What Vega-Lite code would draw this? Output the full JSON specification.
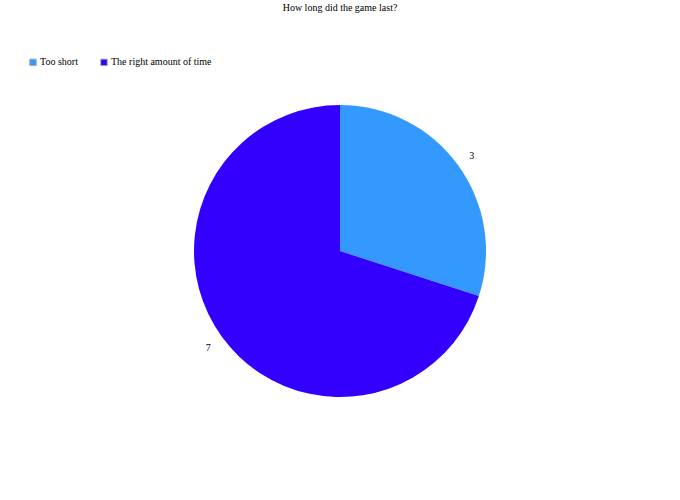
{
  "$schema": "https://vega.github.io/schema/vega-lite/v6.json",
  "width": 680,
  "height": 500,
  "autosize": {"type": "fit", "contains": "padding"},
  "padding": {"left": 0, "right": 0, "top": 3, "bottom": 15},
  "background": "white",
  "title": {
    "text": "How long did the game last?",
    "font": "Liberation Serif",
    "fontSize": 10,
    "fontWeight": "normal",
    "color": "black",
    "anchor": "middle",
    "offset": 4
  },
  "data": {
    "values": [
      {"answer": "Too short", "count": 3, "order": 1},
      {"answer": "The right amount of time", "count": 7, "order": 2}
    ]
  },
  "encoding": {
    "theta": {"field": "count", "type": "quantitative", "stack": true},
    "order": {"field": "order", "type": "quantitative"},
    "color": {
      "field": "answer",
      "type": "nominal",
      "sort": ["Too short", "The right amount of time"],
      "scale": {"domain": ["Too short", "The right amount of time"], "range": ["#3399ff", "#3300ff"]},
      "legend": {
        "orient": "none",
        "legendX": 28,
        "legendY": 40,
        "direction": "horizontal",
        "title": null,
        "symbolType": "square",
        "symbolSize": 42,
        "symbolStrokeColor": "#aaaaaa",
        "symbolStrokeWidth": 1,
        "labelFont": "Liberation Serif",
        "labelFontSize": 10,
        "labelColor": "black",
        "labelOffset": 2,
        "columnPadding": 20
      }
    }
  },
  "layer": [
    {"mark": {"type": "arc", "outerRadius": 146}},
    {
      "mark": {"type": "text", "radius": 163, "dy": 1, "font": "Liberation Serif", "fontSize": 10, "color": "black"},
      "encoding": {"text": {"field": "count", "type": "quantitative"}, "color": {"value": "black"}}
    }
  ],
  "config": {"view": {"stroke": null}}
}
